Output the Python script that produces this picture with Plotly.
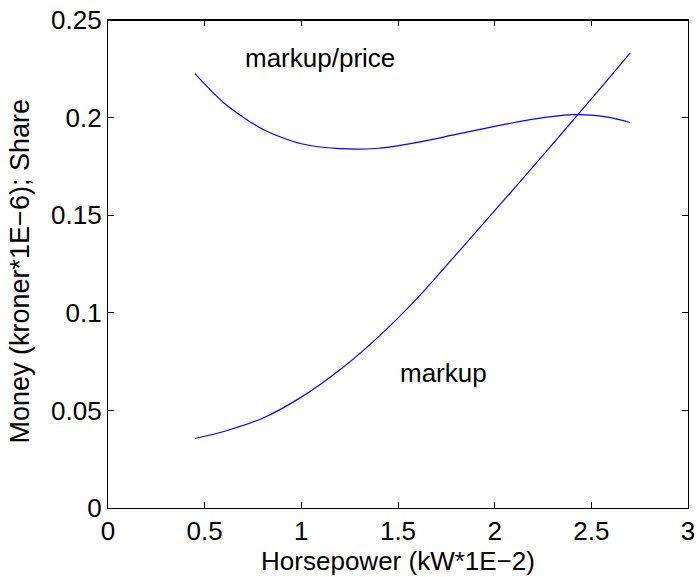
import plotly.graph_objects as go

# Horsepower (kW*1E-2)
hp = [0.45, 0.6, 0.8, 1.0, 1.2, 1.4, 1.6, 1.8, 2.0, 2.2, 2.4, 2.5, 2.6, 2.7]
markup = [0.0356, 0.0392, 0.0460, 0.0568, 0.0708, 0.0878, 0.1075, 0.1298,
          0.1523, 0.1750, 0.1980, 0.2096, 0.2212, 0.2330]
markup_price = [0.2225, 0.2075, 0.1940, 0.1866, 0.1841, 0.1843, 0.1873,
                0.1914, 0.1955, 0.1992, 0.2015, 0.2013, 0.2000, 0.1975]

x_ticks = [0, 0.5, 1, 1.5, 2, 2.5, 3]
x_tick_labels = ["0", "0.5", "1", "1.5", "2", "2.5", "3"]
y_ticks = [0, 0.05, 0.1, 0.15, 0.2, 0.25]
y_tick_labels = ["0", "0.05", "0.1", "0.15", "0.2", "0.25"]

FONT = "Liberation Sans, Arial, Helvetica, sans-serif"

fig = go.Figure()
fig.add_trace(go.Scatter(x=hp, y=markup_price, mode="lines",
                         line=dict(color="#0000ff", width=1.2, shape="spline", smoothing=0.8),
                         name="markup/price", showlegend=False))
fig.add_trace(go.Scatter(x=hp, y=markup, mode="lines",
                         line=dict(color="#0000ff", width=1.2, shape="spline", smoothing=0.8),
                         name="markup", showlegend=False))

fig.add_annotation(x=1.094, y=0.2306, text="markup/price", showarrow=False,
                   xanchor="center", yanchor="middle", font=dict(size=26, color="black", family=FONT))
fig.add_annotation(x=1.735, y=0.069, text="markup", showarrow=False,
                   xanchor="center", yanchor="middle", font=dict(size=26, color="black", family=FONT))

# y-axis title as rotated annotation for precise placement
fig.add_annotation(xref="paper", yref="paper", x=(20 - 108) / 580, y=(508 - 271) / 489,
                   text="Money (kroner*1E\u22126); Share", textangle=-90, showarrow=False,
                   xanchor="center", yanchor="middle", font=dict(size=27, color="black", family=FONT))

# top edge of the frame (drawn explicitly)
fig.add_shape(type="line", xref="paper", yref="paper", x0=0, x1=1, y0=1, y1=1,
              line=dict(color="black", width=2), layer="above")

axis_common = dict(showline=True, linecolor="black", linewidth=1.3, mirror="allticks",
                   ticks="inside", ticklen=6, tickwidth=1, tickcolor="black",
                   showgrid=False, zeroline=False,
                   tickfont=dict(size=26, color="black", family=FONT))

fig.update_xaxes(range=[0, 3], tickvals=x_ticks, ticktext=x_tick_labels,
                 title=dict(text="Horsepower (kW*1E\u22122)", font=dict(size=26, color="black", family=FONT), standoff=2),
                 **axis_common)
fig.update_yaxes(range=[0, 0.25], tickvals=y_ticks, ticktext=y_tick_labels,
                 **axis_common)

fig.update_layout(width=696, height=577, plot_bgcolor="white", paper_bgcolor="white",
                  margin=dict(l=108, r=8, t=20, b=69, autoexpand=False),
                  font=dict(family=FONT, color="black"))

fig.write_html("out.html", config={"displayModeBar": False},
               post_script="document.body.style.margin='0';document.body.style.overflow='hidden';")
